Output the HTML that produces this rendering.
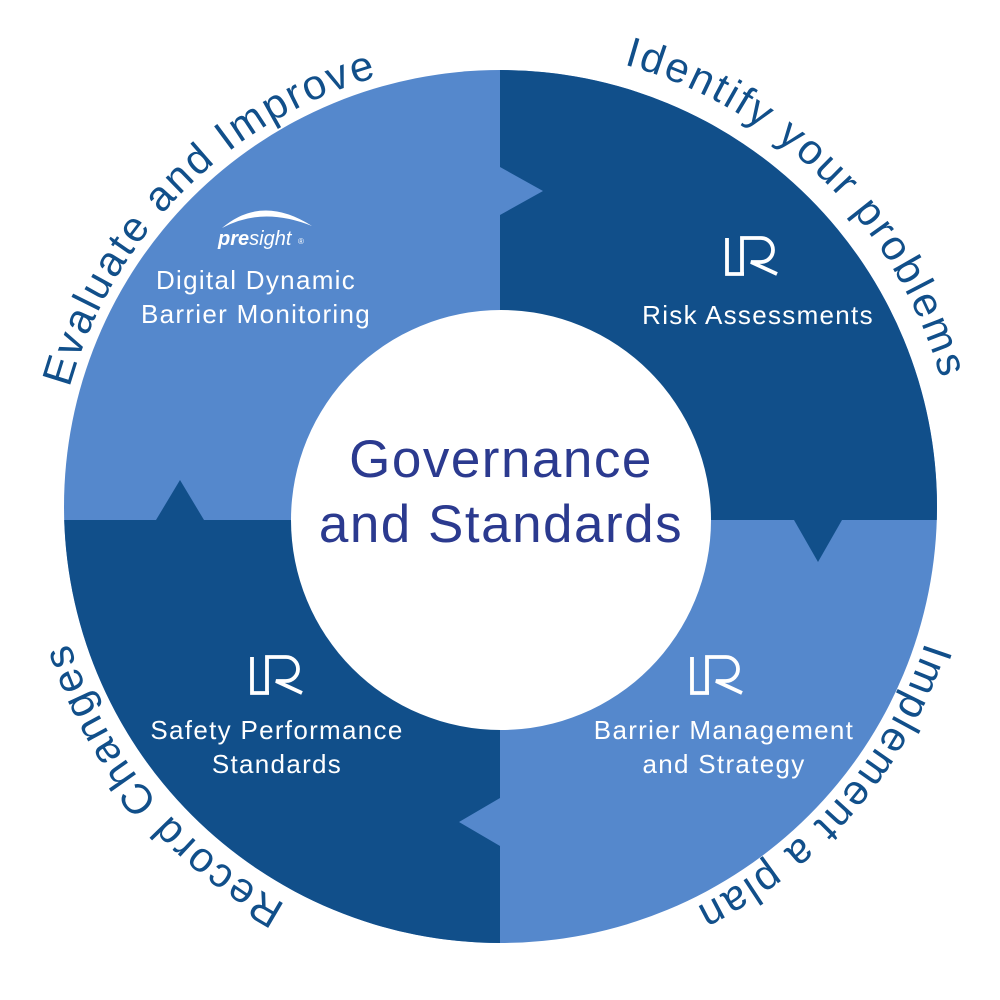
<!DOCTYPE html>
<html><head><meta charset="utf-8"><style>
html,body{margin:0;padding:0;background:#fff;}
svg{display:block;}
</style></head><body>
<svg width="1000" height="1000" viewBox="0 0 1000 1000" xmlns="http://www.w3.org/2000/svg">
<defs>
<clipPath id="c"><circle cx="500.5" cy="506.5" r="436.5"/></clipPath>
<path id="p1" d="M 185.4 823.8 A 447 447 0 0 1 815.6 189.3"/>
<path id="p2" d="M 178.1 182.2 A 455 455 0 0 1 825.3 826.7"/>
<path id="p3" d="M 797 165.4 A 452 452 0 0 1 204 847.6"/>
<path id="p4" d="M 788 855.5 A 452 452 0 0 1 213 157.5"/>
<g id="lr" fill="none" stroke="#fff" stroke-width="3.8">
<path d="M-31,-18 V18 H-14"/>
<path d="M-16,18 V-18 H3 A12 12 0 0 1 3 6 H-7 L19,18" stroke-linejoin="miter"/>
</g>
</defs>
<g clip-path="url(#c)">
<rect x="0" y="0" width="1000" height="1000" fill="#5588cc"/>
<polygon points="500,0 1000,0 1000,520 842,520 818,562 794,520 500,520 500,215 543,191 500,167" fill="#114f8a"/>
<polygon points="0,520 156,520 180,480 204,520 500,520 500,798 459,822 500,846 500,1000 0,1000" fill="#114f8a"/>
</g>
<circle cx="501" cy="520" r="210" fill="#fff"/>
<g font-family="Liberation Sans, sans-serif" font-size="42" fill="#114f8a" text-anchor="middle" letter-spacing="2.5">
<text><textPath href="#p1" startOffset="50%">Evaluate and Improve</textPath></text>
<text><textPath href="#p2" startOffset="50%">Identify your problems</textPath></text>
<text><textPath href="#p3" startOffset="50%">Implement a plan</textPath></text>
<text><textPath href="#p4" startOffset="50%">Record Changes</textPath></text>
</g>
<g font-family="Liberation Sans, sans-serif" font-size="53" fill="#2b3a8f" text-anchor="middle" letter-spacing="1.5">
<text x="501" y="477">Governance</text>
<text x="501" y="542">and Standards</text>
</g>
<g font-family="Liberation Sans, sans-serif" font-size="26" fill="#fff" text-anchor="middle" letter-spacing="1.3">
<text x="256" y="289">Digital Dynamic</text>
<text x="256" y="323">Barrier Monitoring</text>
<text x="758" y="324">Risk Assessments</text>
<text x="277" y="739">Safety Performance</text>
<text x="277" y="773">Standards</text>
<text x="724" y="739">Barrier Management</text>
<text x="724" y="773">and Strategy</text>
</g>
<use href="#lr" x="758" y="256"/>
<use href="#lr" x="283" y="675"/>
<use href="#lr" x="723" y="675"/>
<path d="M222,228 Q262,194 312,226 Q262,206 222,228 Z" fill="#fff"/>
<text x="218" y="245" font-family="Liberation Sans, sans-serif" font-size="20" font-style="italic" fill="#fff"><tspan font-weight="bold">pre</tspan>sight</text>
<text x="298" y="244" font-family="Liberation Sans, sans-serif" font-size="8" fill="#fff">®</text>
</svg>
</body></html>
